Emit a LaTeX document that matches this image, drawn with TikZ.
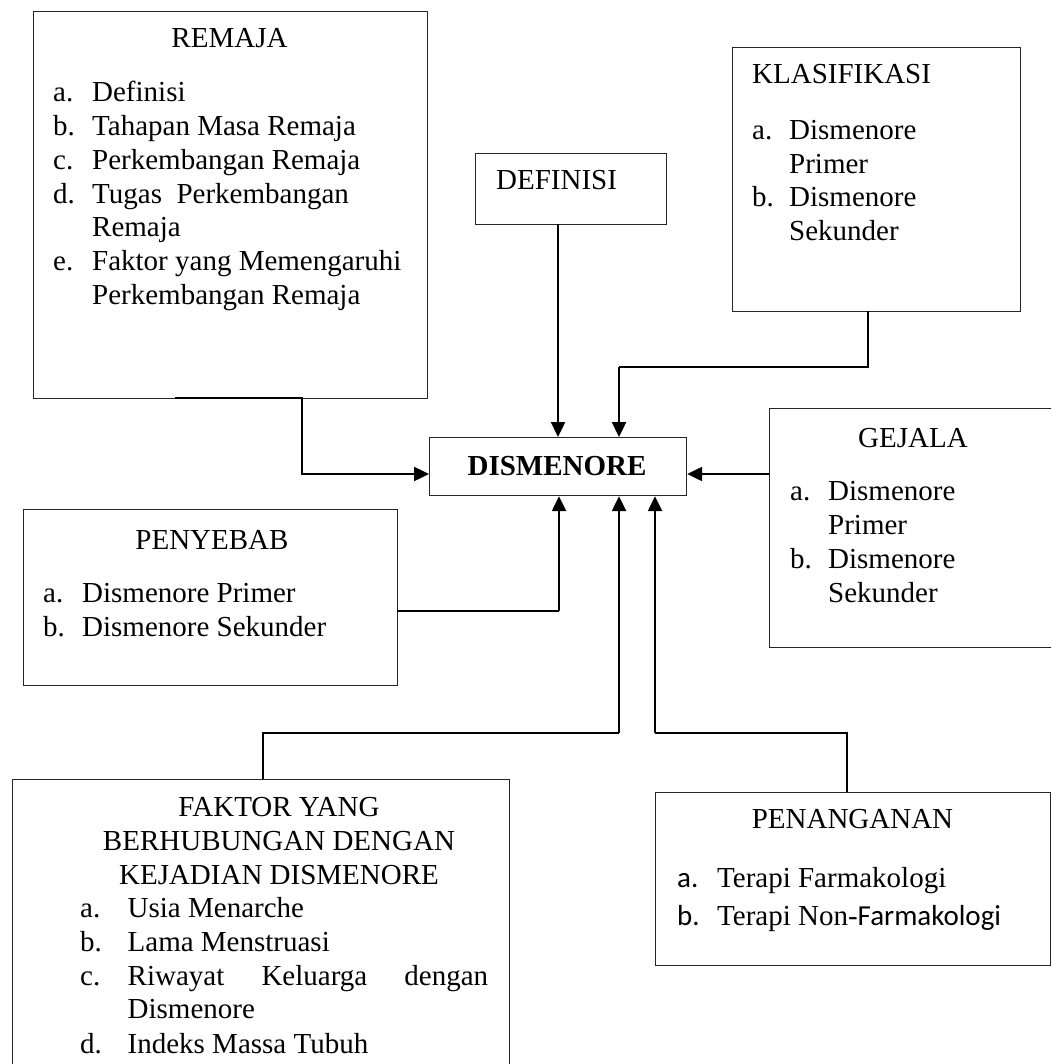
\documentclass[tikz,border=0pt]{standalone}
\usepackage{fontspec}
\setmainfont{Liberation Serif}
\newfontfamily\calib{Carlito}
\usetikzlibrary{arrows.meta}
\newcommand{\fsz}{\fontsize{29}{34}\selectfont}
\newcommand{\lbl}[1]{\makebox[39pt][l]{#1}}
\begin{document}
\begin{tikzpicture}[x=1pt,y=-1pt,
  box/.style={draw=black!85, line width=1.2pt, rectangle, inner sep=0pt, anchor=north west},
  txt/.style={inner sep=0pt, anchor=base west, font=\fsz},
  ctxt/.style={inner sep=0pt, anchor=base, font=\fsz},
  arr/.style={line width=2.4pt, -{Triangle[length=15pt,width=14pt]}},
  thinline/.style={line width=1.2pt}]
\useasboundingbox (0,0) rectangle (1051,1064);
\clip (0,0) rectangle (1051,1064);
\fill[white] (0,0) rectangle (1051,1064);

% boxes
\node[box, minimum width=394pt, minimum height=387pt] (remaja) at (33,11) {};
\node[box, minimum width=191pt, minimum height=71pt] (definisi) at (475,153) {};
\node[box, minimum width=288pt, minimum height=264pt] (klas) at (732,47) {};
\node[box, minimum width=257pt, minimum height=58pt] (dism) at (429,437) {};
\node[box, minimum width=300pt, minimum height=239pt] (gejala) at (769,408) {};
\node[box, minimum width=374pt, minimum height=176pt] (penyebab) at (23,509) {};
\node[box, minimum width=497pt, minimum height=330pt] (faktor) at (12,779) {};
\node[box, minimum width=395pt, minimum height=173pt] (penanganan) at (655,792) {};

% REMAJA text
\node[ctxt] (rt) at (229.5,48) {REMAJA};
\node[txt] (r1) at (53,102) {\lbl{a.}Definisi};
\node[txt] (r2) at (53,136) {\lbl{b.}Tahapan Masa Remaja};
\node[txt] (r3) at (53,170) {\lbl{c.}Perkembangan Remaja};
\node[txt] (r4) at (53,203.5) {\lbl{d.}Tugas\ \ Perkembangan};
\node[txt] (r5) at (92,237) {Remaja};
\node[txt] (r6) at (53,271) {\lbl{e.}Faktor yang Memengaruhi};
\node[txt] (r7) at (92,305) {Perkembangan Remaja};

% DEFINISI
\node[txt] (dt) at (496,190) {DEFINISI};

% KLASIFIKASI
\node[txt] (kt) at (752,84) {KLASIFIKASI};
\node[txt] (k1) at (752,140) {\makebox[37pt][l]{a.}Dismenore};
\node[txt] (k2) at (789,173.5) {Primer};
\node[txt] (k3) at (752,207) {\makebox[37pt][l]{b.}Dismenore};
\node[txt] (k4) at (789,241) {Sekunder};

% DISMENORE
\node[ctxt, font=\fsz\bfseries] (dm) at (557,475) {DISMENORE};

% GEJALA
\node[ctxt] (gt) at (913,447) {GEJALA};
\node[txt] (g1) at (790,500) {\makebox[38pt][l]{a.}Dismenore};
\node[txt] (g2) at (828,534) {Primer};
\node[txt] (g3) at (790,568) {\makebox[38pt][l]{b.}Dismenore};
\node[txt] (g4) at (828,602) {Sekunder};

% PENYEBAB
\node[ctxt] (pt) at (212,549) {PENYEBAB};
\node[txt] (p1) at (43,602) {\lbl{a.}Dismenore Primer};
\node[txt] (p2) at (43,636) {\lbl{b.}Dismenore Sekunder};

% FAKTOR
\node[ctxt] (ft1) at (279,816) {FAKTOR YANG};
\node[ctxt] (ft2) at (279,850) {BERHUBUNGAN DENGAN};
\node[ctxt] (ft3) at (279,884) {KEJADIAN DISMENORE};
\node[txt] (f1t) at (80,917) {\makebox[47.5pt][l]{a.}Usia Menarche};
\node[txt] (f2t) at (80,951) {\makebox[47.5pt][l]{b.}Lama Menstruasi};
\node[txt] (f3t) at (80,985) {\makebox[47.5pt][l]{c.}\makebox[360.5pt][s]{Riwayat\hfill Keluarga\hfill dengan}};
\node[txt] (f4t) at (127.5,1018) {Dismenore};
\node[txt] (f5t) at (80,1053) {\makebox[47.5pt][l]{d.}Indeks Massa Tubuh};

% PENANGANAN
\node[ctxt] (nt) at (852.5,828) {PENANGANAN};
\node[txt] (n1) at (677,887) {\makebox[40pt][l]{\calib a.}Terapi Farmakologi};
\node[txt] (n2) at (677,925) {\makebox[40pt][l]{\calib b.}Terapi Non-{\calib Farmakologi}};

% connectors
\coordinate (ra) at (175,398);
\coordinate (rb) at (302,474);
\draw[arr] (ra) -| (rb) -- (rb -| dism.west);

\coordinate (d0) at (558,224);
\draw[arr] (d0) -- (d0 |- dism.north);

\coordinate (k0) at (868,311);
\coordinate (kc) at (619,367);
\draw[thinline] (k0) |- (kc);
\draw[arr] (kc) -- (kc |- dism.north);

\coordinate (g0) at (769,474);
\draw[arr] (g0) -- (g0 -| dism.east);

\coordinate (p0) at (397,611);
\coordinate (pc) at (559,611);
\draw[thinline] (p0) -- (pc);
\draw[arr] (pc) -- (pc |- dism.south);

\coordinate (f0) at (263,779);
\coordinate (fc) at (619,733);
\draw[thinline] (f0) |- (fc);
\draw[arr] (fc) -- (fc |- dism.south);

\coordinate (n0) at (847,792);
\coordinate (nc) at (655,733);
\draw[thinline] (n0) |- (nc);
\draw[arr] (nc) -- (nc |- dism.south);
\end{tikzpicture}
\end{document}
